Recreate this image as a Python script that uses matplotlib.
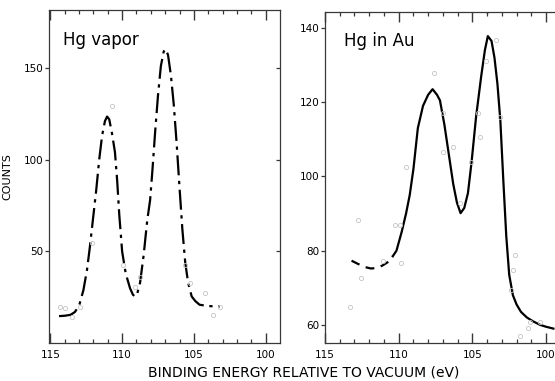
import matplotlib
matplotlib.use("Agg")
import matplotlib.pyplot as plt

# Hg vapor: fitted curve (binding energy eV, counts)
vapor_e = [114.4, 114.0, 113.6, 113.3, 113.0, 112.7, 112.45, 112.25, 112.0, 111.8,
           111.6, 111.4, 111.2, 111.05, 110.9, 110.7, 110.5, 110.35, 110.2, 110.0,
           109.75, 109.45, 109.25, 109.1, 108.95, 108.75, 108.5, 108.25, 108.05, 107.9,
           107.7, 107.5, 107.3, 107.1, 106.95, 106.8, 106.6, 106.4, 106.2, 106.0,
           105.8, 105.6, 105.4, 105.15, 104.9, 104.6, 104.2, 103.8, 103.2]
vapor_c = [14.8, 15.0, 15.5, 17.0, 20.5, 29.0, 40.0, 52.5, 70.0, 84.0,
           100.0, 113.0, 121.0, 123.5, 122.0, 114.0, 104.0, 89.0, 70.0, 50.0,
           38.0, 30.0, 26.5, 25.4, 27.0, 33.0, 48.0, 67.0, 78.0, 93.0,
           115.0, 135.0, 151.0, 159.0, 160.2, 157.0, 146.0, 130.0, 109.0, 85.0,
           62.0, 44.0, 33.0, 25.5, 23.0, 21.0, 20.5, 20.2, 20.0]

# Hg in Au: fitted curve
gold_e = [113.2, 112.8, 112.3, 111.9, 111.5, 111.1, 110.7, 110.4, 110.15, 109.8,
          109.5, 109.25, 109.0, 108.7, 108.35, 108.0, 107.7, 107.4, 107.2, 106.9,
          106.6, 106.3, 106.05, 105.8, 105.55, 105.3, 105.05, 104.75, 104.4, 104.15,
          103.95, 103.7, 103.5, 103.3, 103.1, 102.9, 102.7, 102.5, 102.25, 102.0,
          101.7, 101.3, 100.9, 100.4, 100.0, 99.5]
gold_c = [77.3, 76.5, 75.6, 75.2, 75.3, 76.0, 77.0, 78.5, 80.0, 85.0,
          90.0, 95.0, 102.0, 113.0, 119.0, 122.0, 123.5, 122.0, 120.5, 114.0,
          106.0, 98.0, 93.0, 90.1, 91.5, 95.5, 104.0, 116.0, 127.0, 134.0,
          137.8, 136.5, 132.0, 125.0, 115.0, 99.0, 84.0, 73.5, 68.0, 65.5,
          63.5, 62.0, 61.0, 60.0, 59.5, 59.0]

# faint measured points
vapor_pt_e = [114.34, 113.99, 113.53, 112.95, 112.13, 110.74, 109.93, 109.11, 108.76,
              105.63, 105.28, 104.23, 103.65, 103.19]
vapor_pt_c = [20, 19, 14.5, 20, 54.5, 129, 42.7, 30.8, 36.3, 42.7, 32.7, 27.2, 15.4, 20]
gold_pt_e = [113.32, 112.78, 112.53, 111.07, 110.27, 109.93, 109.82, 109.48, 107.62,
             107.0, 107.0, 106.32, 105.86, 105.07, 104.62, 104.51, 104.05, 104.0,
             103.37, 103.15, 102.36, 102.25, 102.13, 101.79, 101.25, 101.11, 100.43]
gold_pt_c = [64.9, 88.3, 72.6, 77.3, 87, 87, 76.6, 102.6, 127.8, 117, 106.7, 108, 92.8,
             104, 117, 110.7, 131, 144.7, 136.8, 116, 69.4, 74.8, 78.9, 57, 59.1, 60.9, 60.9]

x_major = [115, 110, 105, 100]
x_minor = [e for e in range(100, 116) if e % 5 != 0]

plt.rcParams["font.family"] = ["DejaVu Sans"]

fig = plt.figure(figsize=(5.55, 3.81), dpi=100)
ax1 = fig.add_axes([0.0883, 0.099, 0.416, 0.875])
ax2 = fig.add_axes([0.5856, 0.1005, 0.4248, 0.869])

frame = "#383838"


def style(ax, yticks):
    for s in ax.spines.values():
        s.set_color(frame)
        s.set_linewidth(0.9)
    ax.set_xticks(x_major)
    ax.set_yticks(yticks)
    ax.tick_params(axis="y", direction="out", length=3, width=0.9, color=frame,
                   labelsize=7.5, pad=1)
    ax.tick_params(axis="x", length=0, labelsize=7.5, pad=5)
    # inward tick marks along bottom and top (x in data, y in axes fraction)
    xt = ax.get_xaxis_transform()
    for lo, hi in [(0, 1), (1, 0)]:
        ax.vlines(x_major, lo, lo + (hi - lo) * 0.03, transform=xt, colors=frame,
                  lw=1.0, clip_on=False)
        ax.vlines(x_minor, lo, lo + (hi - lo) * 0.012, transform=xt, colors=frame,
                  lw=0.9, clip_on=False)
    # inward ticks on the right-hand frame
    ax.hlines(yticks, 0.983, 1.0, transform=ax.get_yaxis_transform(), colors=frame,
              lw=0.9, clip_on=False)


ax1.plot(vapor_e, vapor_c, color="black", lw=1.6, dashes=(9, 2.5, 1.5, 2.5))
ax1.plot(vapor_pt_e, vapor_pt_c, "o", ms=3, mfc="none", mec="#c4c4c4", mew=0.6)
ax1.set_xlim(115.1, 99.0)
ax1.set_ylim(0, 181.6)
style(ax1, [50, 100, 150])
ax1.text(0.06, 0.91, "Hg vapor", transform=ax1.transAxes, fontsize=12, va="center")
ax1.set_ylabel("COUNTS", fontsize=8, labelpad=8)

ax2.plot(gold_e[:8], gold_c[:8], color="black", lw=1.6, dashes=(4, 3))
ax2.plot(gold_e[7:], gold_c[7:], color="black", lw=1.6)
ax2.plot(gold_pt_e, gold_pt_c, "o", ms=3, mfc="none", mec="#c4c4c4", mew=0.6)
ax2.set_xlim(115.0, 99.0)
ax2.set_ylim(55.2, 144.4)
style(ax2, [60, 80, 100, 120, 140])
ax2.text(0.08, 0.91, "Hg in Au", transform=ax2.transAxes, fontsize=12, va="center")

fig.text(304 / 555, 1 - 373 / 381, "BINDING ENERGY RELATIVE TO VACUUM (eV)",
         fontsize=10, ha="center", va="center")

fig.savefig("out.png", dpi=100)
